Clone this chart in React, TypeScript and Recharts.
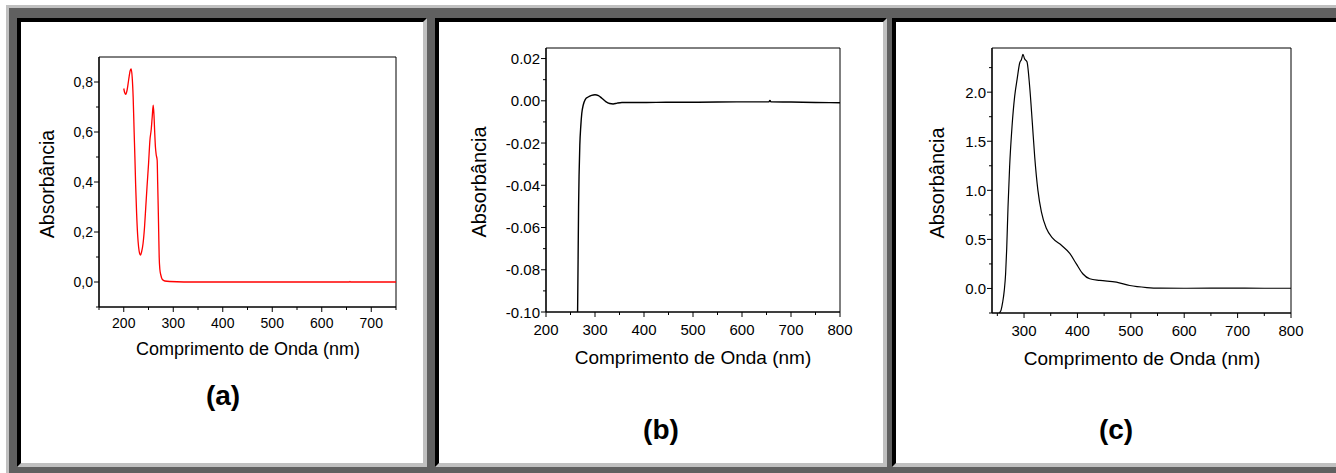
import React from "react";
import { LineChart, Line, XAxis, YAxis, ReferenceArea } from "recharts";

// ---------------------------------------------------------------------------
// Data
// ---------------------------------------------------------------------------

const waveA = [
  200, 202, 204, 207, 210, 213, 215, 217, 219, 221, 222.5, 224, 226, 228, 230, 232, 234, 236,
  239, 242, 244.5, 247, 250, 253, 255.5, 257.5, 259.5, 261, 262.5, 264, 265.5, 267.5, 268.5,
  269.6, 270.6, 271.6, 273, 275, 278, 283, 293, 350, 450, 550, 650, 656, 657, 658, 750,
];
const absA = [
  0.774, 0.757, 0.751, 0.77, 0.81, 0.845, 0.852, 0.82, 0.74, 0.6, 0.5, 0.39, 0.274, 0.19, 0.14,
  0.115, 0.108, 0.12, 0.154, 0.22, 0.3, 0.38, 0.47, 0.57, 0.61, 0.66, 0.707, 0.67, 0.6, 0.54,
  0.51, 0.487, 0.4, 0.3, 0.2, 0.1, 0.05, 0.027, 0.01, 0.004, 0.002, 0.0, 0.0, 0.0, 0.0, 0.0,
  0.002, 0.0, 0.0,
];

const waveB = [
  264.5, 265.5, 266.5, 267.5, 269, 271, 273, 276, 280, 286, 293, 300, 307, 314, 322, 330, 337,
  345, 355, 400, 450, 500, 550, 600, 650, 655, 657, 659, 700, 750, 800,
];
const absB = [
  -0.1, -0.075, -0.05, -0.035, -0.021, -0.012, -0.006, -0.002, 0.0006, 0.0018, 0.0026, 0.0029,
  0.0025, 0.0012, -0.0004, -0.0013, -0.0015, -0.0011, -0.0008, -0.0008, -0.0007, -0.0007,
  -0.0006, -0.0005, -0.0005, -0.0005, 0.0002, -0.0005, -0.0006, -0.0008, -0.0009,
];

const waveC = [
  251, 254, 257, 260, 263, 265.5, 267.5, 270, 273, 277.5, 282.5, 287, 292, 295, 298, 301, 305.5,
  310.5, 315.5, 320, 326, 332.5, 342, 354, 370, 386, 398, 410, 423, 442, 473, 498, 530, 555,
  600, 650, 655, 700, 750, 800,
];
const absC = [
  -0.3, -0.25, -0.22, -0.14, -0.02, 0.15, 0.4, 0.83, 1.24, 1.65, 1.96, 2.13, 2.3, 2.33, 2.385,
  2.34, 2.31, 2.06, 1.69, 1.34, 1.0, 0.78, 0.61, 0.51, 0.44, 0.355, 0.25, 0.15, 0.099, 0.082,
  0.065, 0.03, 0.009, 0.003, 0.002, 0.003, 0.004, 0.003, 0.002, 0.002,
];

// tick labels
const xMajorA = [200, 300, 400, 500, 600, 700];
const xMinorA = [150, 250, 350, 450, 550, 650, 750];
const yMajorA = [0, 0.2, 0.4, 0.6, 0.8];
const yMinorA = [-0.1, 0.1, 0.3, 0.5, 0.7];

const xMajorB = [200, 300, 400, 500, 600, 700, 800];
const xMinorB = [250, 350, 450, 550, 650, 750];
const yMajorB = [-0.1, -0.08, -0.06, -0.04, -0.02, 0, 0.02];
const yMinorB = [-0.09, -0.07, -0.05, -0.03, -0.01, 0.01];

const xMajorC = [300, 400, 500, 600, 700, 800];
const xMinorC = [250, 350, 450, 550, 650, 750];
const yMajorC = [0, 0.5, 1.0, 1.5, 2.0];
const yMinorC = [-0.25, 0.25, 0.75, 1.25, 1.75, 2.25];

const toPoints = (xs: number[], ys: number[]) => xs.map((x, i) => ({ x, y: ys[i] }));

// ---------------------------------------------------------------------------
// Styling
// ---------------------------------------------------------------------------

const FONT = '"Liberation Sans", Arial, sans-serif';
const LIGHT = "#c0c0c0";
const DARK = "#606060";

interface PanelProps {
  data: { x: number; y: number }[];
  color: string;
  lineWidth: number;
  plot: { left: number; top: number; width: number; height: number };
  xDomain: [number, number];
  yDomain: [number, number];
  xMajor: number[];
  xMinor: number[];
  yMajor: number[];
  yMinor: number[];
  fmtY: (v: number) => string;
  tickFont: number;
  xLabelGap: number;
  yTitle: { x: number; y: number; size: number };
  xTitle: { x: number; y: number; size: number };
  tag: { x: number; y: number; text: string };
}

const L_PAD = 70;
const T_PAD = 10;
const R_PAD = 20;
const B_PAD = 40;

function Panel(p: PanelProps) {
  const w = p.plot.width + L_PAD + R_PAD;
  const h = p.plot.height + T_PAD + B_PAD;
  const xTicks = [...p.xMajor, ...p.xMinor].sort((a, b) => a - b);
  const yTicks = [...p.yMajor, ...p.yMinor].sort((a, b) => a - b);

  // eslint-disable-next-line @typescript-eslint/no-explicit-any
  const renderXTick = (props: any) => {
    const { x, y, payload } = props;
    const major = p.xMajor.includes(payload.value);
    return (
      <g>
        <line x1={x} x2={x} y1={y} y2={y + (major ? 5 : 3)} stroke="#000" strokeWidth={1} />
        {major && (
          <text
            x={x}
            y={y + p.xLabelGap}
            textAnchor="middle"
            dominantBaseline="central"
            fontSize={p.tickFont}
            fontFamily={FONT}
            fill="#000"
          >
            {payload.value}
          </text>
        )}
      </g>
    );
  };

  // eslint-disable-next-line @typescript-eslint/no-explicit-any
  const renderYTick = (props: any) => {
    const { x, y, payload } = props;
    const major = p.yMajor.includes(payload.value);
    return (
      <g>
        <line x1={x} x2={x - (major ? 5 : 3)} y1={y} y2={y} stroke="#000" strokeWidth={1} />
        {major && (
          <text
            x={x - 6}
            y={y}
            textAnchor="end"
            dominantBaseline="central"
            fontSize={p.tickFont}
            fontFamily={FONT}
            fill="#000"
          >
            {p.fmtY(payload.value)}
          </text>
        )}
      </g>
    );
  };

  return (
    <>
      <div
        style={{
          position: "absolute",
          left: p.plot.left - L_PAD,
          top: p.plot.top - T_PAD,
          width: w,
          height: h,
        }}
      >
        <LineChart
          width={w}
          height={h}
          data={p.data}
          margin={{ top: T_PAD, right: R_PAD, bottom: 0, left: 0 }}
        >
          <XAxis
            dataKey="x"
            type="number"
            domain={p.xDomain}
            allowDataOverflow
            ticks={xTicks}
            interval={0}
            height={B_PAD}
            tickSize={0}
            tickMargin={0}
            tickLine={false}
            axisLine={{ stroke: "#000", strokeWidth: 1.2 }}
            tick={renderXTick}
          />
          <YAxis
            type="number"
            domain={p.yDomain}
            allowDataOverflow
            ticks={yTicks}
            interval={0}
            width={L_PAD}
            tickSize={0}
            tickMargin={0}
            tickLine={false}
            axisLine={{ stroke: "#000", strokeWidth: 1.2 }}
            tick={renderYTick}
          />
          <ReferenceArea
            x1={p.xDomain[0]}
            x2={p.xDomain[1]}
            y1={p.yDomain[0]}
            y2={p.yDomain[1]}
            fill="none"
            stroke="#000"
            strokeWidth={1}
          />
          <Line
            type="monotone"
            dataKey="y"
            stroke={p.color}
            strokeWidth={p.lineWidth}
            dot={false}
            isAnimationActive={false}
          />
        </LineChart>
      </div>
      <div
        style={{
          position: "absolute",
          left: p.yTitle.x,
          top: p.yTitle.y,
          transform: "translate(-50%, -50%) rotate(-90deg)",
          fontFamily: FONT,
          fontSize: p.yTitle.size,
          whiteSpace: "nowrap",
          color: "#000",
        }}
      >
        Absorbância
      </div>
      <div
        style={{
          position: "absolute",
          left: p.xTitle.x,
          top: p.xTitle.y,
          transform: "translate(-50%, -50%)",
          fontFamily: FONT,
          fontSize: p.xTitle.size,
          whiteSpace: "nowrap",
          color: "#000",
        }}
      >
        Comprimento de Onda (nm)
      </div>
      <div
        style={{
          position: "absolute",
          left: p.tag.x,
          top: p.tag.y,
          transform: "translate(-50%, -50%)",
          fontFamily: FONT,
          fontSize: 28,
          fontWeight: "bold",
          whiteSpace: "nowrap",
          color: "#000",
        }}
      >
        {p.tag.text}
      </div>
    </>
  );
}

function Frame({ left, width }: { left: number; width: number }) {
  return (
    <div
      style={{
        position: "absolute",
        left,
        top: 18,
        width,
        height: 449,
        boxSizing: "border-box",
        background: "#fff",
        borderTop: "4px solid #000",
        borderLeft: "4px solid #000",
        borderRight: `4px solid ${LIGHT}`,
        borderBottom: `4px solid ${LIGHT}`,
      }}
    />
  );
}

export default function App() {
  return (
    <div
      style={{
        position: "absolute",
        left: 0,
        top: 0,
        width: 1336,
        height: 473,
        background: "#fff",
        overflow: "hidden",
      }}
    >
      {/* outer bevelled frame */}
      <div
        style={{
          position: "absolute",
          left: 6,
          top: 5,
          width: 1340,
          height: 470,
          boxSizing: "border-box",
          background: DARK,
          borderTop: `3px solid ${LIGHT}`,
          borderLeft: `3px solid ${LIGHT}`,
        }}
      />
      <Frame left={17} width={410} />
      <Frame left={435} width={452} />
      <Frame left={892} width={450} />

      <Panel
        data={toPoints(waveA, absA)}
        color="#ff0000"
        lineWidth={1.3}
        plot={{ left: 99, top: 57, width: 297, height: 250 }}
        xDomain={[150, 750]}
        yDomain={[-0.1, 0.9]}
        xMajor={xMajorA}
        xMinor={xMinorA}
        yMajor={yMajorA}
        yMinor={yMinorA}
        fmtY={(v) => v.toFixed(1).replace(".", ",")}
        tickFont={14}
        xLabelGap={16}
        yTitle={{ x: 47, y: 184, size: 19.5 }}
        xTitle={{ x: 248, y: 349, size: 18 }}
        tag={{ x: 223, y: 396, text: "(a)" }}
      />
      <Panel
        data={toPoints(waveB, absB)}
        color="#000"
        lineWidth={1.4}
        plot={{ left: 546, top: 48, width: 294, height: 264 }}
        xDomain={[200, 800]}
        yDomain={[-0.1, 0.025]}
        xMajor={xMajorB}
        xMinor={xMinorB}
        yMajor={yMajorB}
        yMinor={yMinorB}
        fmtY={(v) => v.toFixed(2)}
        tickFont={15}
        xLabelGap={17}
        yTitle={{ x: 479, y: 182, size: 20 }}
        xTitle={{ x: 693, y: 358, size: 19 }}
        tag={{ x: 661, y: 430, text: "(b)" }}
      />
      <Panel
        data={toPoints(waveC, absC)}
        color="#000"
        lineWidth={1.2}
        plot={{ left: 992, top: 48, width: 299, height: 265 }}
        xDomain={[240, 800]}
        yDomain={[-0.25, 2.45]}
        xMajor={xMajorC}
        xMinor={xMinorC}
        yMajor={yMajorC}
        yMinor={yMinorC}
        fmtY={(v) => v.toFixed(1)}
        tickFont={15}
        xLabelGap={17}
        yTitle={{ x: 937, y: 183, size: 20 }}
        xTitle={{ x: 1142, y: 359, size: 19 }}
        tag={{ x: 1116, y: 430, text: "(c)" }}
      />
    </div>
  );
}
